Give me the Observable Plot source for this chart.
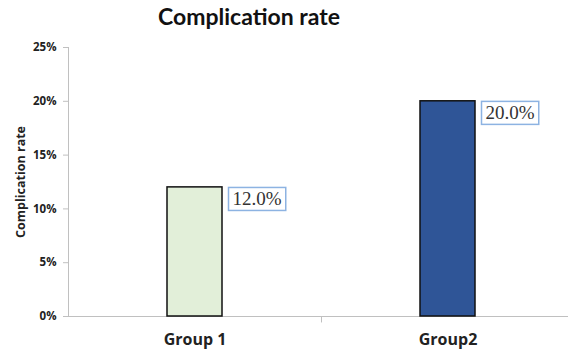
<!DOCTYPE html>
<html>
<head>
<meta charset="utf-8">
<script src="https://cdn.jsdelivr.net/npm/d3@7"></script>
<script src="https://cdn.jsdelivr.net/npm/@observablehq/plot@0.6"></script>
<style>
  html, body { margin: 0; padding: 0; background: #fff; }
  #wrap { position: relative; width: 568px; height: 351px; overflow: hidden; }
  #title { position: absolute; left: 0; width: 498px; top: 5px; text-align: center;
           font-family: Lato, "Open Sans", sans-serif; font-weight: bold; font-size: 23px; line-height: 1; color: #111; }
</style>
</head>
<body>
<div id="wrap"><div id="title">Complication rate</div></div>
<script>
const categories = ["Group 1", "Group2"];
const rates = [0.12, 0.20];
const colors = ["#e2efd9", "#2f5597"];
const yTicks = [0, 0.05, 0.10, 0.15, 0.20, 0.25];
const labels = ["12.0%", "20.0%"];

const data = categories.map((c, i) => ({cat: c, rate: rates[i], color: colors[i], label: labels[i]}));

const xRange = [68, 574];
const step = (xRange[1] - xRange[0]) / categories.length;
const barW = 55;
const inset = (step - barW) / 2;

const chart = Plot.plot({
  width: 568,
  height: 351,
  marginTop: 47,
  marginBottom: 35,
  marginLeft: 68,
  marginRight: 0,
  style: {fontFamily: "'Open Sans', Lato, sans-serif", background: "transparent"},
  x: {domain: categories, range: xRange, padding: 0, label: null},
  y: {domain: [0, 0.25], label: null},
  marks: [
    Plot.frame({anchor: "left", stroke: "#c0c0c0"}),
    Plot.ruleY([0], {stroke: "#c0c0c0"}),
    Plot.ruleX(categories.slice(1), {x: d => d, dx: -step / 2, y1: 0, y2: -0.006, stroke: "#c0c0c0"}),
    Plot.axisY({ticks: yTicks, tickFormat: d3.format(".0%"), tickSize: 5, tickPadding: 7,
      stroke: "#c0c0c0", fill: "#222", fontSize: 11.5, fontWeight: "bold",
      label: "Complication rate", labelAnchor: "center", labelArrow: "none", labelOffset: 52}),
    Plot.axisX({tickSize: 0, tickPadding: 17, fontSize: 16, fontWeight: "bold", fill: "#222", label: null}),
    Plot.barY(data, {x: "cat", y: "rate", fill: "color", stroke: "#111", strokeWidth: 1.5,
      insetLeft: inset, insetRight: inset}),
    Plot.text(data, {x: "cat", y: "rate", text: "label", textAnchor: "start", lineAnchor: "middle",
      dx: barW / 2 + 10, dy: 12, fontFamily: "'Liberation Serif', 'DejaVu Serif', serif",
      fontSize: 19, fill: "#333", className: "datalabel"})
  ]
});

document.getElementById("wrap").appendChild(chart);

// y-axis label styling
chart.querySelectorAll("g[aria-label='y-axis label'] text").forEach(t => {
  t.setAttribute("font-size", 12.5);
  t.setAttribute("font-weight", "bold");
  t.setAttribute("fill", "#222");
});

// boxes around data labels
const g = chart.querySelector("g.datalabel") || chart.querySelector("g[aria-label='text']");
if (g) {
  g.querySelectorAll("text").forEach(t => {
    const b = t.getBBox();
    const r = document.createElementNS("http://www.w3.org/2000/svg", "rect");
    r.setAttribute("x", b.x - 4);
    r.setAttribute("y", b.y - 1);
    r.setAttribute("width", b.width + 8);
    r.setAttribute("height", b.height + 2);
    r.setAttribute("fill", "#fff");
    r.setAttribute("stroke", "#8db3e2");
    r.setAttribute("stroke-width", 1.5);
    const tr = t.getAttribute("transform");
    if (tr) r.setAttribute("transform", tr);
    t.parentNode.insertBefore(r, t);
  });
}
</script>
</body>
</html>
